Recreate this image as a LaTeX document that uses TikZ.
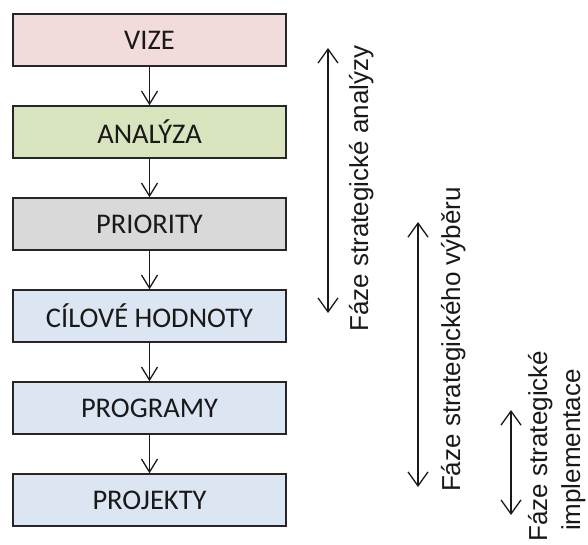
\documentclass[tikz,border=0pt]{standalone}
\usepackage{fontspec}
\newfontfamily\boxfont{Carlito}
\newfontfamily\labfont{Liberation Sans}
\usetikzlibrary{arrows.meta}
\definecolor{cvize}{HTML}{F2DCDB}
\definecolor{canal}{HTML}{D7E4BD}
\definecolor{cprio}{HTML}{D9D9D9}
\definecolor{cblue}{HTML}{DCE6F2}
\definecolor{cedge}{HTML}{262626}
\tikzset{
  stepbox/.style={draw=cedge, line width=1.5pt, minimum width=273pt, minimum height=52pt,
    inner sep=0pt, font=\boxfont\fontsize{28.5}{34}\selectfont, text=black!90},
  flow/.style={draw=black!90, line width=1.3pt, -{Straight Barb[length=13pt,width=16pt,line width=1.3pt]}},
  span/.style={draw=black!90, line width=1.3pt, {Straight Barb[length=14pt,width=20pt,line width=1.3pt]}-{Straight Barb[length=14pt,width=20pt,line width=1.3pt]}},
  phase/.style={rotate=90, anchor=base, inner sep=0pt, font=\labfont\fontsize{26}{31}\selectfont, text=black!90}
}
\begin{document}
\begin{tikzpicture}[x=1pt,y=-1pt]
\useasboundingbox (0,0) rectangle (588,544);
\node[stepbox, fill=cvize] (vize) at (149.5,40) {VIZE};
\node[stepbox, fill=canal] (anal) at (149.5,132) {ANALÝZA};
\node[stepbox, fill=cprio] (prio) at (149.5,224) {PRIORITY};
\node[stepbox, fill=cblue] (cil) at (149.5,316) {CÍLOVÉ HODNOTY};
\node[stepbox, fill=cblue] (prog) at (149.5,408) {PROGRAMY};
\node[stepbox, fill=cblue] (proj) at (149.5,500) {PROJEKTY};
\draw[flow] (vize.south) -- (anal.north);
\draw[flow] (anal.south) -- (prio.north);
\draw[flow] (prio.south) -- (cil.north);
\draw[flow] (cil.south) -- (prog.north);
\draw[flow] (prog.south) -- (proj.north);
\coordinate (a1t) at (328,48);
\coordinate (a1b) at (328,313);
\coordinate (a2t) at (418,222);
\coordinate (a2b) at (418,487);
\coordinate (a3t) at (511,410);
\coordinate (a3b) at (511,515);
\draw[span] (a1t) -- (a1b);
\draw[span] (a2t) -- (a2b);
\draw[span] (a3t) -- (a3b);
\node[phase] (l1) at (368,188.5) {Fáze strategické analýzy};
\node[phase] (l2) at (460,339.5) {Fáze strategického výběru};
\node[phase] (l3a) at (547,446) {Fáze strategické};
\node[phase] (l3b) at (580,450) {implementace};
\end{tikzpicture}
\end{document}
